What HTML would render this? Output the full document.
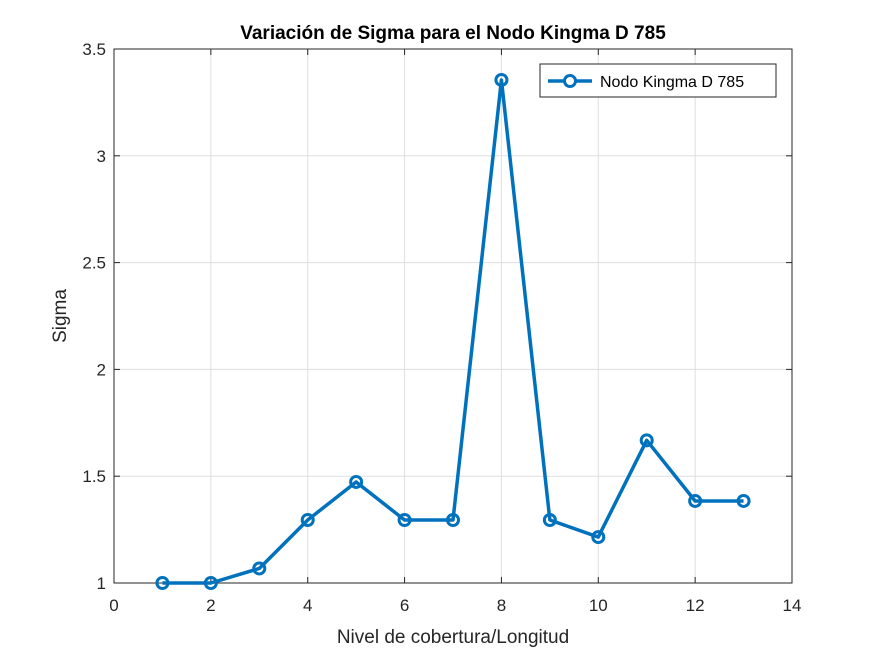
<!DOCTYPE html>
<html><head><meta charset="utf-8">
<style>
html,body{margin:0;padding:0;background:#fff;}
svg{display:block;font-family:"Liberation Sans",Arial,sans-serif;}
</style></head>
<body>
<svg id="chart" width="875" height="656" viewBox="0 0 875 656"></svg>
<script>
const categories=[1,2,3,4,5,6,7,8,9,10,11,12,13];
const sigmaValues=[1,1,1.068,1.295,1.473,1.295,1.295,3.355,1.295,1.215,1.668,1.384,1.384];
const xTicks=[0,2,4,6,8,10,12,14];
const yTicks=[1,1.5,2,2.5,3,3.5];
const yTickLabels=["1","1.5","2","2.5","3","3.5"];
const seriesName="Nodo Kingma D 785";

const NS="http://www.w3.org/2000/svg";
const svg=document.getElementById('chart');
const L=114,R=792,T=49,B=583;
const xs=v=>L+(v-0)/(14-0)*(R-L);
const ys=v=>B-(v-1)/(3.5-1)*(B-T);
function mk(tag,attrs,parent){const e=document.createElementNS(NS,tag);for(const k in attrs)e.setAttribute(k,attrs[k]);(parent||svg).appendChild(e);return e;}

const plot=mk('rect',{x:L,y:T,width:R-L,height:B-T,fill:'#fff'});



xTicks.forEach(v=>{const g=mk('line',{x1:xs(v),x2:xs(v),y1:T,y2:B,stroke:'#dfdfdf','stroke-width':1});

});
yTicks.forEach(v=>{const g=mk('line',{x1:L,x2:R,y1:ys(v),y2:ys(v),stroke:'#dfdfdf','stroke-width':1});

});

const box=mk('rect',{x:L,y:T,width:R-L,height:B-T,fill:'none',stroke:'#262626','stroke-width':1});



xTicks.forEach(v=>{
 mk('line',{x1:xs(v),x2:xs(v),y1:B,y2:B-6,stroke:'#262626'});
 mk('line',{x1:xs(v),x2:xs(v),y1:T,y2:T+6,stroke:'#262626'});
 const t=mk('text',{x:xs(v),y:B+28,'text-anchor':'middle','font-size':17,fill:'#262626'});t.textContent=v;
 
 
});
yTicks.forEach((v,i)=>{
 mk('line',{x1:L,x2:L+6,y1:ys(v),y2:ys(v),stroke:'#262626'});
 mk('line',{x1:R,x2:R-6,y1:ys(v),y2:ys(v),stroke:'#262626'});
 const t=mk('text',{x:L-8,y:ys(v)+6,'text-anchor':'end','font-size':17,fill:'#262626'});t.textContent=yTickLabels[i];
 
 
});

const pts=categories.map((c,i)=>xs(c)+','+ys(sigmaValues[i])).join(' ');
const line=mk('polyline',{points:pts,fill:'none',stroke:'#0072bd','stroke-width':3.5,'stroke-linejoin':'round'});


categories.forEach((c,i)=>{
 const p=mk('circle',{cx:xs(c),cy:ys(sigmaValues[i]),r:5.5,fill:'none',stroke:'#0072bd','stroke-width':3});
 
 
});

const lg=mk('g',{});


mk('rect',{x:540,y:64,width:236,height:33,fill:'#fff',stroke:'#262626','stroke-width':1},lg);
mk('line',{x1:548,x2:592,y1:81,y2:81,stroke:'#0072bd','stroke-width':3.5},lg);
mk('circle',{cx:570,cy:81,r:5.5,fill:'#fff',stroke:'#0072bd','stroke-width':3},lg);
const lt=mk('text',{x:600,y:87,'font-size':16,fill:'#000'},lg);lt.textContent=seriesName;



const tt=mk('text',{x:(L+R)/2,y:39,'text-anchor':'middle','font-size':19,'font-weight':'bold',fill:'#000'});
tt.textContent="Variación de Sigma para el Nodo Kingma D 785";


const xt=mk('text',{x:(L+R)/2,y:643,'text-anchor':'middle','font-size':19,fill:'#262626'});
xt.textContent="Nivel de cobertura/Longitud";


const yt=mk('text',{x:0,y:0,'text-anchor':'middle','font-size':19,fill:'#262626',transform:'translate(66,316) rotate(-90)'});
yt.textContent="Sigma";


</script>
</body></html>
